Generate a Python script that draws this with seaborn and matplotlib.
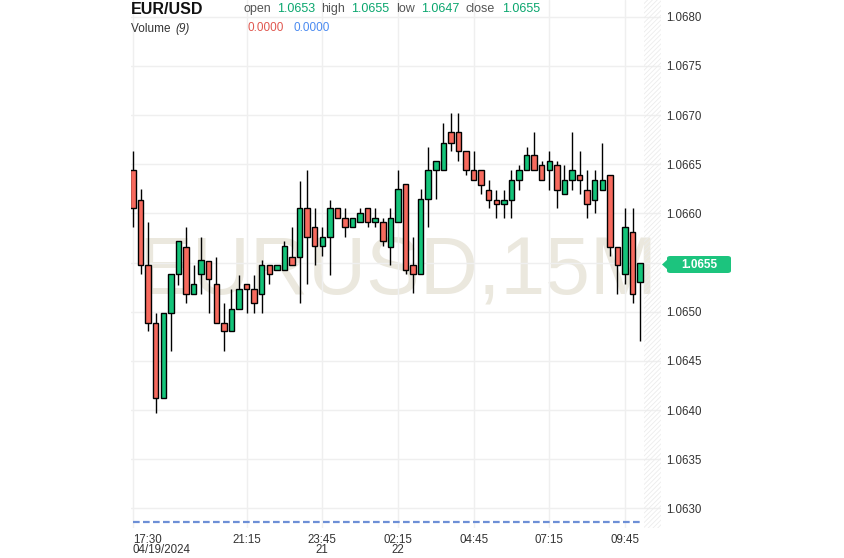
import numpy as np
import pandas as pd
import matplotlib
matplotlib.use("Agg")
import matplotlib.pyplot as plt
import seaborn as sns
from matplotlib.patches import FancyBboxPatch, Polygon

# EUR/USD 15 minute candles
opens = [1.06644, 1.06614, 1.06547, 1.06489, 1.06412, 1.06499, 1.06538, 1.06566, 1.06518, 1.06538,
         1.06552, 1.06528, 1.06489, 1.06480, 1.06503, 1.06528, 1.06523, 1.06518, 1.06547, 1.06542,
         1.06542, 1.06556, 1.06556, 1.06605, 1.06586, 1.06567, 1.06576, 1.06605, 1.06595, 1.06586,
         1.06591, 1.06605, 1.06591, 1.06591, 1.06566, 1.06591, 1.06630, 1.06547, 1.06538, 1.06615,
         1.06644, 1.06644, 1.06683, 1.06683, 1.06663, 1.06644, 1.06644, 1.06624, 1.06614, 1.06610,
         1.06614, 1.06634, 1.06644, 1.06659, 1.06649, 1.06644, 1.06649, 1.06620, 1.06634, 1.06639,
         1.06624, 1.06614, 1.06624, 1.06639, 1.06566, 1.06538, 1.06581, 1.06530]
highs = [1.06663, 1.06625, 1.06591, 1.06499, 1.06499, 1.06538, 1.06572, 1.06586, 1.06547, 1.06576,
         1.06552, 1.06556, 1.06509, 1.06523, 1.06537, 1.06528, 1.06537, 1.06553, 1.06547, 1.06547,
         1.06572, 1.06586, 1.06633, 1.06644, 1.06605, 1.06586, 1.06614, 1.06605, 1.06605, 1.06595,
         1.06605, 1.06605, 1.06605, 1.06595, 1.06605, 1.06644, 1.06630, 1.06576, 1.06625, 1.06668,
         1.06653, 1.06692, 1.06702, 1.06702, 1.06663, 1.06663, 1.06644, 1.06634, 1.06624, 1.06624,
         1.06644, 1.06649, 1.06668, 1.06683, 1.06653, 1.06663, 1.06653, 1.06649, 1.06683, 1.06663,
         1.06644, 1.06644, 1.06672, 1.06639, 1.06566, 1.06605, 1.06605, 1.06550]
lows = [1.06586, 1.06538, 1.06480, 1.06397, 1.06412, 1.06460, 1.06527, 1.06509, 1.06518, 1.06518,
        1.06499, 1.06489, 1.06460, 1.06480, 1.06503, 1.06499, 1.06499, 1.06499, 1.06528, 1.06542,
        1.06542, 1.06547, 1.06509, 1.06528, 1.06547, 1.06557, 1.06537, 1.06595, 1.06576, 1.06586,
        1.06591, 1.06586, 1.06586, 1.06567, 1.06547, 1.06591, 1.06538, 1.06519, 1.06538, 1.06586,
        1.06615, 1.06644, 1.06663, 1.06653, 1.06639, 1.06634, 1.06620, 1.06605, 1.06595, 1.06595,
        1.06595, 1.06624, 1.06644, 1.06644, 1.06634, 1.06624, 1.06605, 1.06620, 1.06624, 1.06620,
        1.06595, 1.06600, 1.06624, 1.06557, 1.06518, 1.06528, 1.06509, 1.06470]
closes = [1.06605, 1.06547, 1.06489, 1.06412, 1.06499, 1.06538, 1.06572, 1.06518, 1.06528, 1.06553,
          1.06533, 1.06489, 1.06480, 1.06503, 1.06523, 1.06523, 1.06509, 1.06547, 1.06538, 1.06547,
          1.06567, 1.06547, 1.06605, 1.06576, 1.06567, 1.06576, 1.06605, 1.06595, 1.06586, 1.06595,
          1.06600, 1.06591, 1.06595, 1.06572, 1.06595, 1.06625, 1.06542, 1.06538, 1.06615, 1.06644,
          1.06653, 1.06672, 1.06672, 1.06663, 1.06644, 1.06634, 1.06629, 1.06614, 1.06610, 1.06614,
          1.06634, 1.06644, 1.06659, 1.06644, 1.06634, 1.06653, 1.06624, 1.06634, 1.06644, 1.06634,
          1.06610, 1.06634, 1.06634, 1.06566, 1.06547, 1.06586, 1.06518, 1.06550]
volume = [0.0] * len(opens)

tick_idx = [0, 15, 25, 35, 45, 55, 65]
tick_labels = ["17:30\n04/19/2024", "21:15", "23:45\n21", "02:15\n22", "04:45", "07:15", "09:45"]
price_ticks = [1.0630, 1.0635, 1.0640, 1.0645, 1.0650, 1.0655, 1.0660, 1.0665, 1.0670, 1.0675, 1.0680]

df = pd.DataFrame({"open": opens, "high": highs, "low": lows, "close": closes, "volume": volume})
df["idx"] = np.arange(len(df))

GREEN = "#14c47a"
RED = "#f76a5e"

sns.set_theme(style="white")
plt.rcParams["font.family"] = ["Liberation Sans", "DejaVu Sans"]
plt.rcParams["hatch.linewidth"] = 0.6

W, H = 844, 558
fig = plt.figure(figsize=(W / 100, H / 100), dpi=100)
ax = fig.add_axes([131 / W, 1 - 528 / H, (661 - 131) / W, 528 / H])

ax.set_xlim(-0.26, 69.75)
ax.set_ylim(1.06280, 1.06817)

# volume line on its own scale (made first so the price axis stays on the right)
ax2 = ax.twinx()
ax2.set_ylim(-0.0116, 1)
sns.lineplot(data=df, x="idx", y="volume", ax=ax2, color="#6d8fd6", lw=1.6,
             linestyle=(0, (3, 1.5)))
ax2.set_axis_off()
ax2.set_xlim(ax.get_xlim())

# watermark
ax.text(398 / W, 1 - 293 / H, "EURUSD,15M", ha="center", va="baseline",
        fontsize=58, color="#ebe8de", zorder=0.5, transform=fig.transFigure)

# future area hatch
ax.axvspan(67.5, 69.75, facecolor="none", edgecolor="#ececec", hatch="///////", lw=0, zorder=0.6)

# candles
up = df["close"] >= df["open"]
ax.vlines(df["idx"], df["low"], df["high"], color="black", lw=1, zorder=2)
body_bot = np.minimum(df["open"], df["close"])
body_h = np.abs(df["close"] - df["open"]).clip(lower=0.000008)
ax.bar(df["idx"], body_h, bottom=body_bot, width=0.72,
       color=np.where(up, GREEN, RED), edgecolor="black", linewidth=1, zorder=3)

# grid and ticks
ax.set_yticks(price_ticks)
ax.set_yticklabels(["" if abs(p - 1.0655) < 1e-9 else f"{p:.4f}" for p in price_ticks])
ax.set_xticks(tick_idx)
ax.set_xticklabels(tick_labels, linespacing=0.8)
ax.xaxis.get_ticklabels()[0].set_ha("left")
ax.yaxis.tick_right()
ax.tick_params(axis="both", length=0, labelsize=8.3, labelcolor="#333333")
ax.tick_params(axis="y", pad=4, left=False, labelleft=False, right=True, labelright=True)
ax.tick_params(axis="x", pad=4)
ax.grid(True, color="#efefef", lw=1)
for s in ax.spines.values():
    s.set_visible(False)

# header
def px(x, y):
    return x / W, 1 - y / H

fig.text(*px(131, 9), "EUR/USD", fontsize=11.5, fontweight="bold", color="#111111", va="center")
hdr = [("open", 243, "#555555"), ("1.0653", 277, "#0aa66e"), ("high", 321, "#555555"),
       ("1.0655", 351, "#0aa66e"), ("low", 396, "#555555"), ("1.0647", 421, "#0aa66e"),
       ("close", 466, "#555555"), ("1.0655", 502, "#0aa66e")]
for t, x, c in hdr:
    fig.text(*px(x, 9), t, fontsize=9, color=c, va="center")
fig.text(*px(131, 29), "Volume ", fontsize=8.5, color="#333333", va="center")
fig.text(*px(175, 29), "(9)", fontsize=8.5, color="#333333", va="center", style="italic")
fig.text(*px(248, 28), "0.0000", fontsize=8.5, color="#e0574f", va="center")
fig.text(*px(293, 28), "0.0000", fontsize=8.5, color="#4a8af0", va="center")

# last price badge
bx0, bx1, by0, by1 = 667, 731, 256, 273
fig.patches.append(FancyBboxPatch(px(bx0, by1), (bx1 - bx0) / W, (by1 - by0) / H,
                                  boxstyle="round,pad=0,rounding_size=0.004",
                                  transform=fig.transFigure, fc="#1cc47e", ec="none"))
fig.patches.append(Polygon([px(662, 264.5), px(668, 259), px(668, 270)], closed=True,
                           transform=fig.transFigure, fc="#1cc47e", ec="none"))
fig.text(*px((bx0 + bx1) / 2, 265), "1.0655", fontsize=8.5, fontweight="bold",
         color="white", ha="center", va="center")

fig.savefig("out.png", dpi=100)
